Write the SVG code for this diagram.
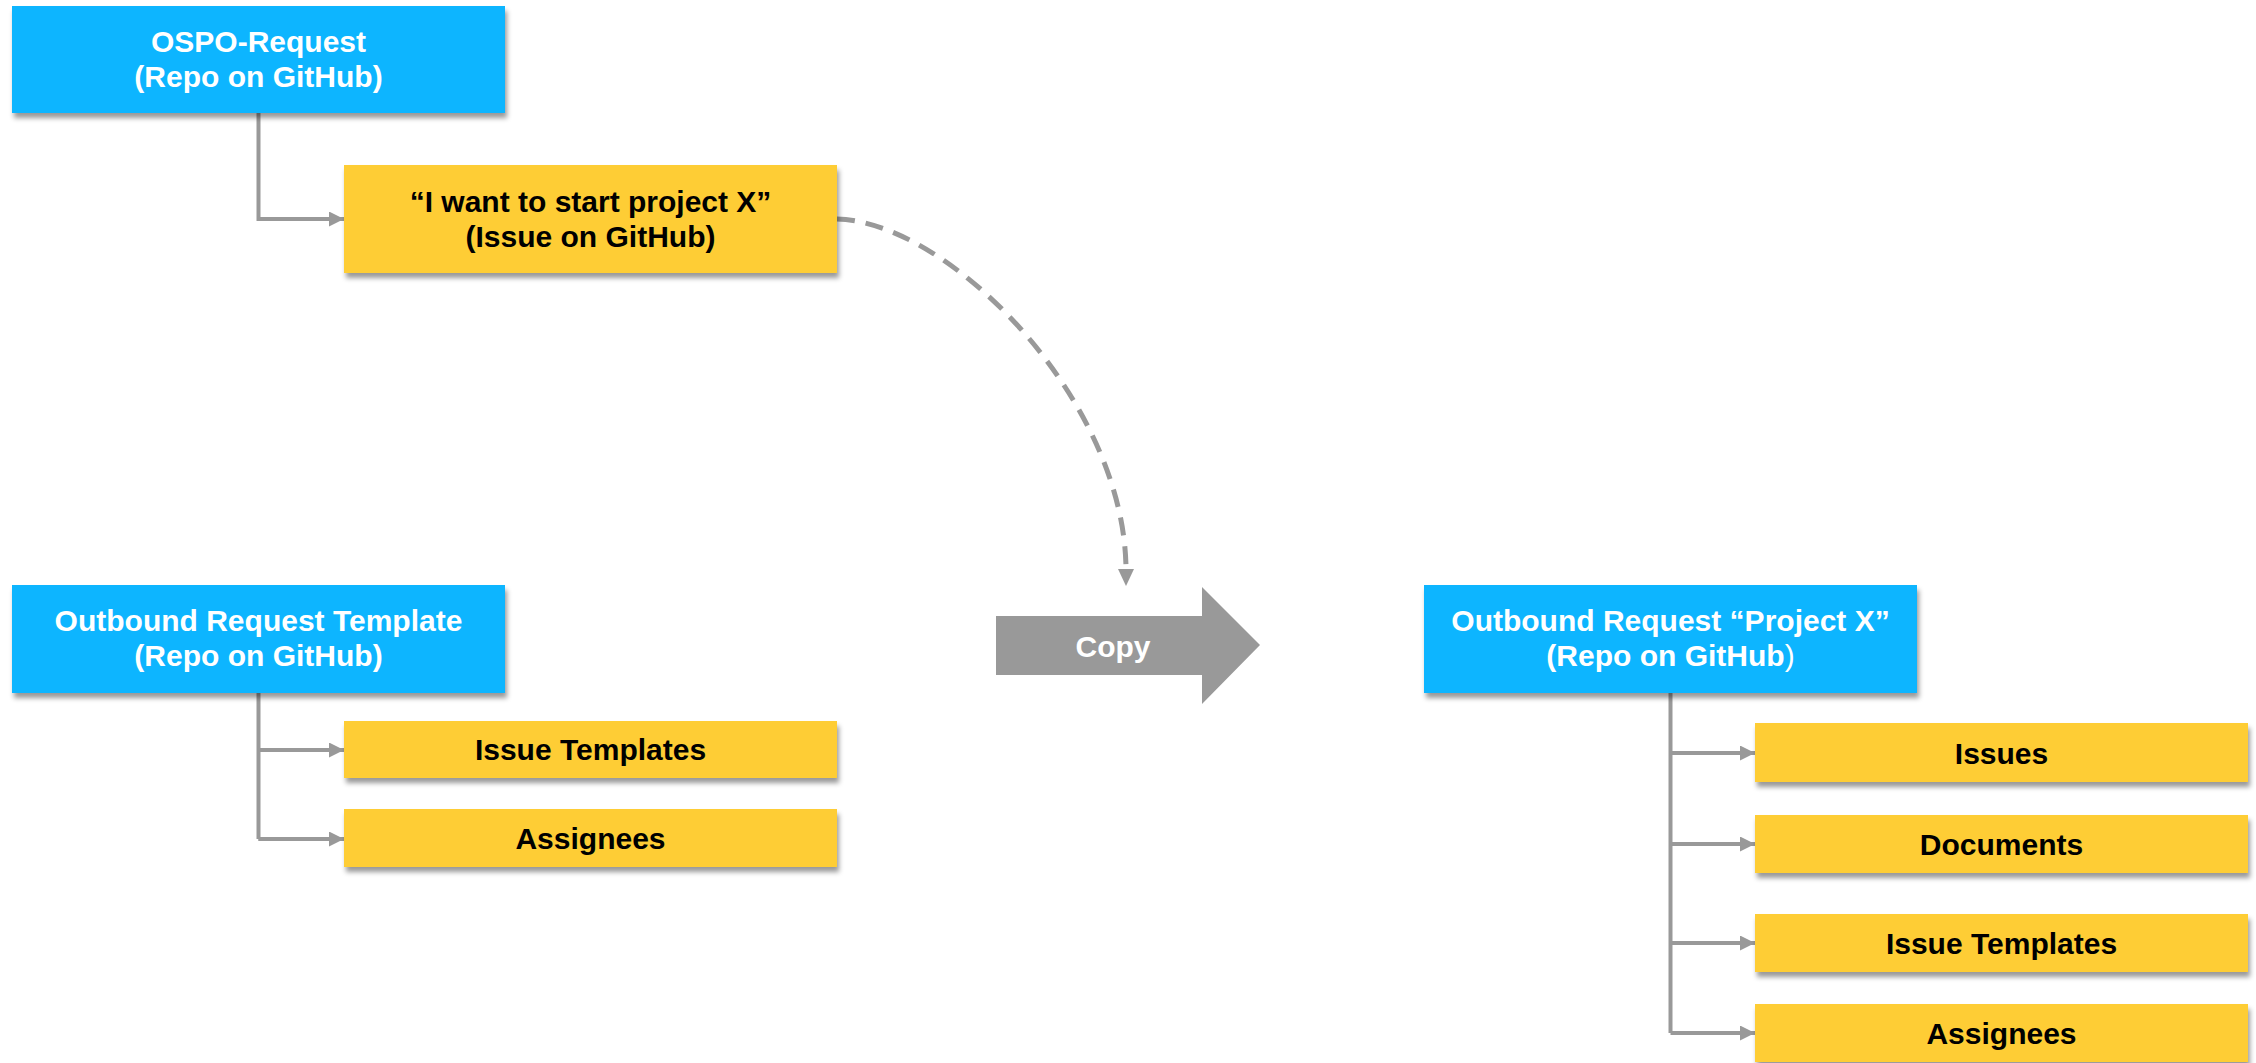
<svg xmlns="http://www.w3.org/2000/svg" width="2256" height="1063" viewBox="0 0 2256 1063">
  <style>
    .blue { fill: #0DB5FF; }
    .yellow { fill: #FECD34; }
    .lbl { font-family: "Liberation Sans", Arial, sans-serif; font-weight: bold; font-size: 30px; text-anchor: middle; }
    .w { fill: #FFFFFF; }
    .k { fill: #000000; }
    .conn { fill: none; stroke: #999999; stroke-width: 4; }
    .dash { fill: none; stroke: #999999; stroke-width: 5; stroke-dasharray: 18 11; }
  </style>
  <defs>
    <filter id="sh" x="-5%" y="-20%" width="110%" height="150%">
      <feDropShadow dx="2" dy="5" stdDeviation="2.5" flood-color="#000000" flood-opacity="0.4"/>
    </filter>
    <marker id="ah" viewBox="0 0 10 10" refX="10" refY="5" markerWidth="15" markerHeight="15" markerUnits="userSpaceOnUse" orient="auto">
      <path d="M0,0 L10,5 L0,10 Z" fill="#999999"/>
    </marker>
  </defs>
  <rect width="2256" height="1063" fill="#FFFFFF"/>

  <g id="connectors">
    <path class="conn" d="M258.5,113 V219 H344" marker-end="url(#ah)"/>
    <path class="conn" d="M258.5,693 V839 M258.5,750 H344 M258.5,839 H344"/>
    <path class="conn" d="M258.5,750 H344" marker-end="url(#ah)"/>
    <path class="conn" d="M258.5,839 H344" marker-end="url(#ah)"/>
    <path class="conn" d="M1670.5,693 V1033"/>
    <path class="conn" d="M1670.5,753 H1755" marker-end="url(#ah)"/>
    <path class="conn" d="M1670.5,844 H1755" marker-end="url(#ah)"/>
    <path class="conn" d="M1670.5,943 H1755" marker-end="url(#ah)"/>
    <path class="conn" d="M1670.5,1033 H1755" marker-end="url(#ah)"/>
    <path class="dash" d="M837,219 C950,222 1124,400 1126,568"/>
    <path d="M1118,569 L1134,569 L1126,586 Z" fill="#999999"/>
  </g>

  <g id="copy-arrow">
    <path d="M996,616 H1202 V587 L1260,645 L1202,704 V675 H996 Z" fill="#999999"/>
    <text class="lbl w" x="1113" y="657" font-size="29">Copy</text>
  </g>

  <g id="ospo-request">
    <rect class="blue" x="12" y="6" width="493" height="107" filter="url(#sh)"/>
    <text class="lbl w" x="258.5" y="52">OSPO-Request</text>
    <text class="lbl w" x="258.5" y="87">(Repo on GitHub)</text>
  </g>

  <g id="issue-project-x">
    <rect class="yellow" x="344" y="165" width="493" height="108" filter="url(#sh)"/>
    <text class="lbl k" x="590.5" y="212">“I want to start project X”</text>
    <text class="lbl k" x="590.5" y="247">(Issue on GitHub)</text>
  </g>

  <g id="template-repo">
    <rect class="blue" x="12" y="585" width="493" height="108" filter="url(#sh)"/>
    <text class="lbl w" x="258.5" y="631">Outbound Request Template</text>
    <text class="lbl w" x="258.5" y="666">(Repo on GitHub)</text>
  </g>

  <g id="template-issue-templates">
    <rect class="yellow" x="344" y="721" width="493" height="57" filter="url(#sh)"/>
    <text class="lbl k" x="590.5" y="760">Issue Templates</text>
  </g>

  <g id="template-assignees">
    <rect class="yellow" x="344" y="809" width="493" height="58" filter="url(#sh)"/>
    <text class="lbl k" x="590.5" y="849">Assignees</text>
  </g>

  <g id="project-x-repo">
    <rect class="blue" x="1424" y="585" width="493" height="108" filter="url(#sh)"/>
    <text class="lbl w" x="1670.5" y="631">Outbound Request “Project X”</text>
    <text class="lbl w" x="1670.5" y="666">(Repo on GitHub<tspan font-weight="normal">)</tspan></text>
  </g>

  <g id="px-issues">
    <rect class="yellow" x="1755" y="723" width="493" height="59" filter="url(#sh)"/>
    <text class="lbl k" x="2001.5" y="764">Issues</text>
  </g>

  <g id="px-documents">
    <rect class="yellow" x="1755" y="815" width="493" height="58" filter="url(#sh)"/>
    <text class="lbl k" x="2001.5" y="855">Documents</text>
  </g>

  <g id="px-issue-templates">
    <rect class="yellow" x="1755" y="914" width="493" height="58" filter="url(#sh)"/>
    <text class="lbl k" x="2001.5" y="954">Issue Templates</text>
  </g>

  <g id="px-assignees">
    <rect class="yellow" x="1755" y="1004" width="493" height="58" filter="url(#sh)"/>
    <text class="lbl k" x="2001.5" y="1044">Assignees</text>
  </g>
</svg>
